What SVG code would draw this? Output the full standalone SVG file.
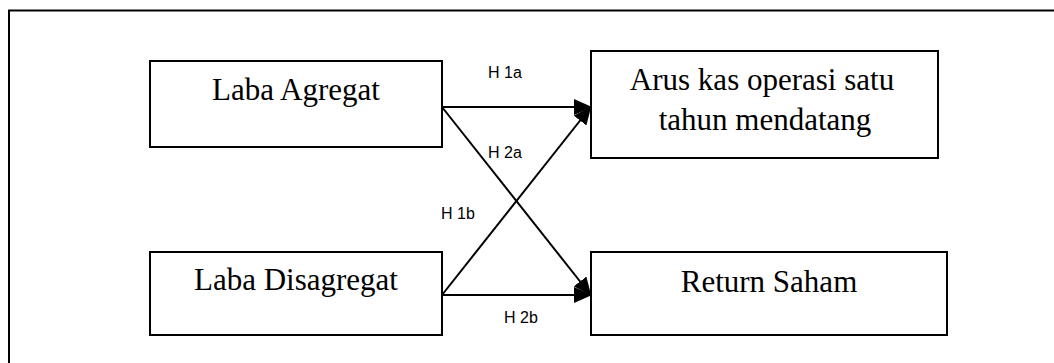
<svg xmlns="http://www.w3.org/2000/svg" width="1054" height="363" viewBox="0 0 1054 363">
<style>
.box{fill:#fff;stroke:#000;stroke-width:2}
.t{font-family:"Liberation Serif","Times New Roman",serif;font-size:31px;fill:#000;text-anchor:middle}
.lbl{font-family:"Liberation Sans",Arial,sans-serif;font-size:16px;fill:#000;text-anchor:middle}
.edge{stroke:#000;stroke-width:2;fill:none;marker-end:url(#ah)}
</style>
<defs>
<marker id="ah" markerWidth="9" markerHeight="8" refX="8" refY="4" orient="auto" markerUnits="strokeWidth">
<path d="M0,0 L9,4 L0,8 Z" fill="#000"/>
</marker>
</defs>
<rect width="1054" height="363" fill="#fff"/>
<rect x="9" y="10.5" width="1100" height="400" fill="none" stroke="#000" stroke-width="2"/>
<g id="laba-agregat">
<rect class="box" x="150" y="61" width="292" height="86"/>
<text class="t" x="296" y="100">Laba Agregat</text>
</g>
<g id="laba-disagregat">
<rect class="box" x="150" y="252" width="292" height="83"/>
<text class="t" x="296" y="290">Laba Disagregat</text>
</g>
<g id="arus-kas">
<rect class="box" x="591" y="51" width="347" height="107"/>
<text class="t" x="762" y="90">Arus kas operasi satu</text>
<text class="t" x="765" y="130">tahun mendatang</text>
</g>
<g id="return-saham">
<rect class="box" x="591" y="252" width="356" height="83"/>
<text class="t" x="769" y="292">Return Saham</text>
</g>
<g id="connectors">
<line class="edge" x1="442" y1="107" x2="590" y2="107"/>
<line class="edge" x1="442" y1="107" x2="590" y2="294"/>
<line class="edge" x1="442" y1="295" x2="590" y2="108"/>
<line class="edge" x1="442" y1="295" x2="590" y2="295"/>
<text class="lbl" x="505" y="78">H 1a</text>
<text class="lbl" x="505" y="158">H 2a</text>
<text class="lbl" x="458" y="219">H 1b</text>
<text class="lbl" x="521" y="323">H 2b</text>
</g>
</svg>
